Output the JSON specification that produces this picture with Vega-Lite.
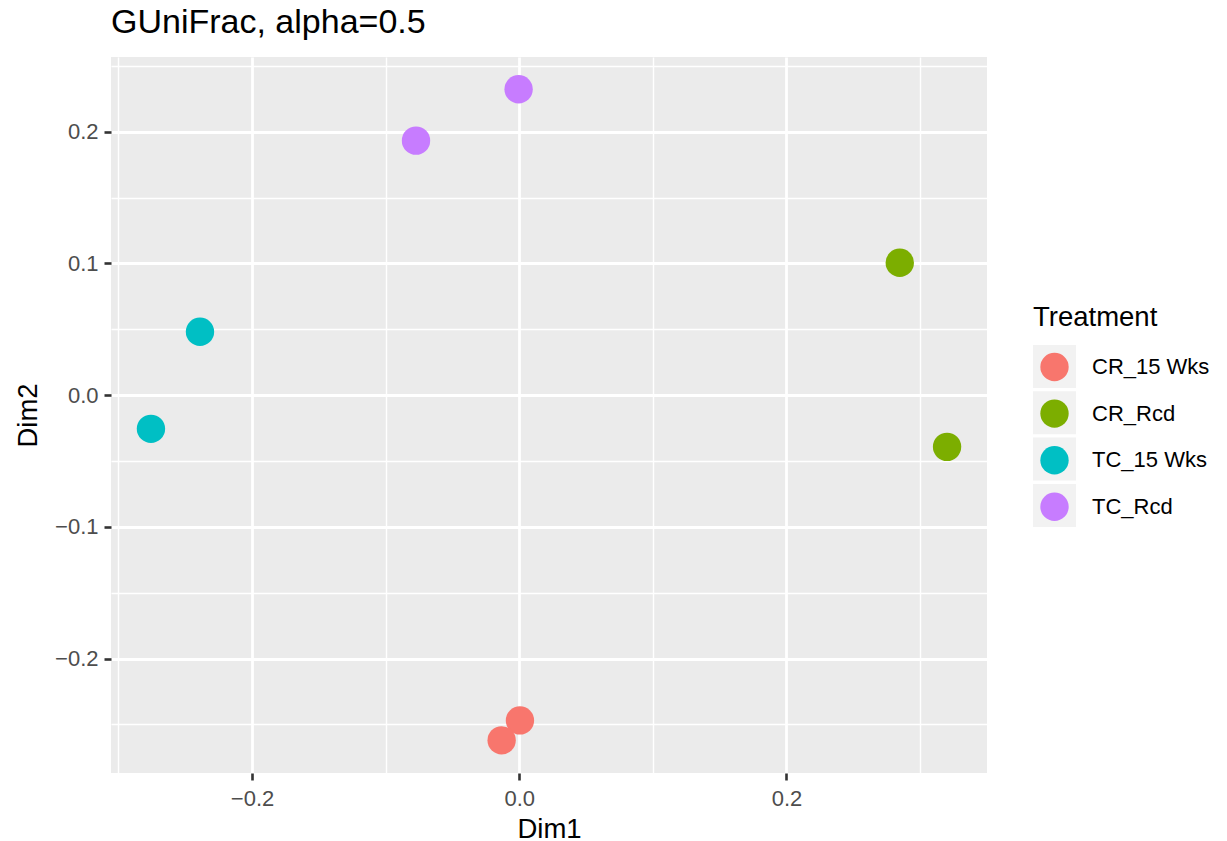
{
  "$schema": "https://vega.github.io/schema/vega-lite/v6.json",
  "autosize": {"type": "none"},
  "width": 876,
  "height": 716,
  "padding": {"left": 111, "top": 57, "right": 240, "bottom": 68},
  "background": "white",
  "title": {
    "text": "GUniFrac, alpha=0.5",
    "anchor": "start",
    "frame": "group",
    "font": "Liberation Sans",
    "fontSize": 34,
    "fontWeight": "normal",
    "color": "black",
    "offset": 15
  },
  "data": {
    "values": [
      {"Dim1": 0.0005, "Dim2": -0.247, "Treatment": "CR_15 Wks"},
      {"Dim1": -0.0132, "Dim2": -0.2621, "Treatment": "CR_15 Wks"},
      {"Dim1": 0.2848, "Dim2": 0.1005, "Treatment": "CR_Rcd"},
      {"Dim1": 0.3202, "Dim2": -0.0393, "Treatment": "CR_Rcd"},
      {"Dim1": -0.239, "Dim2": 0.0481, "Treatment": "TC_15 Wks"},
      {"Dim1": -0.2757, "Dim2": -0.0256, "Treatment": "TC_15 Wks"},
      {"Dim1": -0.0773, "Dim2": 0.1932, "Treatment": "TC_Rcd"},
      {"Dim1": -0.0005, "Dim2": 0.2322, "Treatment": "TC_Rcd"}
    ]
  },
  "encoding": {
    "x": {
      "field": "Dim1",
      "type": "quantitative",
      "scale": {"domain": [-0.3056, 0.3501], "nice": false, "zero": false},
      "axis": {
        "title": "Dim1",
        "values": [-0.3, -0.2, -0.1, 0, 0.1, 0.2, 0.3],
        "labelExpr": "abs(datum.value*5 - round(datum.value*5)) < 0.01 ? replace(format(datum.value, '.1f'), '-', '\u2212') : ''",
        "gridWidth": {"condition": {"test": "abs(datum.value*5 - round(datum.value*5)) < 0.01", "value": 2.8}, "value": 1.4},
        "tickOpacity": {"condition": {"test": "abs(datum.value*5 - round(datum.value*5)) < 0.01", "value": 1}, "value": 0},
        "labelPadding": 8,
        "titlePadding": 6
      }
    },
    "y": {
      "field": "Dim2",
      "type": "quantitative",
      "scale": {"domain": [-0.2869, 0.2567], "nice": false, "zero": false},
      "axis": {
        "title": "Dim2",
        "values": [-0.25, -0.2, -0.15, -0.1, -0.05, 0, 0.05, 0.1, 0.15, 0.2, 0.25],
        "labelExpr": "abs(datum.value*10 - round(datum.value*10)) < 0.01 ? replace(format(datum.value, '.1f'), '-', '\u2212') : ''",
        "gridWidth": {"condition": {"test": "abs(datum.value*10 - round(datum.value*10)) < 0.01", "value": 2.8}, "value": 1.4},
        "tickOpacity": {"condition": {"test": "abs(datum.value*10 - round(datum.value*10)) < 0.01", "value": 1}, "value": 0},
        "labelPadding": 6,
        "titlePadding": 12
      }
    }
  },
  "layer": [
    {
      "description": "Grey key boxes behind the legend symbols (points themselves stay invisible here).",
      "mark": {"type": "circle", "size": 804, "opacity": 0},
      "encoding": {
        "color": {
          "field": "Treatment",
          "type": "nominal",
          "scale": {
            "domain": ["CR_15 Wks", "CR_Rcd", "TC_15 Wks", "TC_Rcd"],
            "range": ["#F2F2F2", "#F2F2F2", "#F2F2F2", "#F2F2F2"]
          },
          "legend": {
            "title": null,
            "orient": "none",
            "legendX": 922,
            "legendY": 288,
            "padding": 0,
            "symbolType": "square",
            "symbolSize": 1849,
            "symbolOpacity": 1,
            "symbolStrokeWidth": 0,
            "labelExpr": "''",
            "labelFontSize": 1,
            "labelOffset": 0,
            "rowPadding": 3.3
          }
        }
      }
    },
    {
      "mark": {"type": "circle", "size": 804, "opacity": 1},
      "encoding": {
        "color": {
          "field": "Treatment",
          "type": "nominal",
          "scale": {
            "domain": ["CR_15 Wks", "CR_Rcd", "TC_15 Wks", "TC_Rcd"],
            "range": ["#F8766D", "#7CAE00", "#00BFC4", "#C77CFF"]
          },
          "legend": {
            "title": "Treatment",
            "orient": "none",
            "legendX": 922,
            "legendY": 247,
            "padding": 0,
            "symbolType": "circle",
            "symbolSize": 804,
            "symbolOpacity": 1,
            "symbolStrokeWidth": 0,
            "titleFont": "Liberation Sans",
            "titleFontSize": 27.5,
            "titleFontWeight": "normal",
            "titleColor": "black",
            "titlePadding": 21,
            "labelFont": "Liberation Sans",
            "labelFontSize": 22,
            "labelColor": "black",
            "rowPadding": 17.6,
            "encode": {
              "symbols": {"update": {"x": {"value": 21.5}}},
              "labels": {"update": {"x": {"value": 59}}}
            }
          }
        }
      }
    }
  ],
  "resolve": {"scale": {"color": "independent"}, "legend": {"color": "independent"}},
  "config": {
    "view": {"fill": "#EBEBEB", "stroke": null},
    "axis": {
      "domain": false,
      "grid": true,
      "gridColor": "white",
      "gridOpacity": 1,
      "ticks": true,
      "tickSize": 7,
      "tickWidth": 2.6,
      "tickColor": "#333333",
      "labelFont": "Liberation Sans",
      "labelFontSize": 22,
      "labelColor": "#4D4D4D",
      "labelFlush": false,
      "labelOverlap": false,
      "titleFont": "Liberation Sans",
      "titleFontSize": 27.5,
      "titleFontWeight": "normal",
      "titleColor": "black"
    }
  }
}
